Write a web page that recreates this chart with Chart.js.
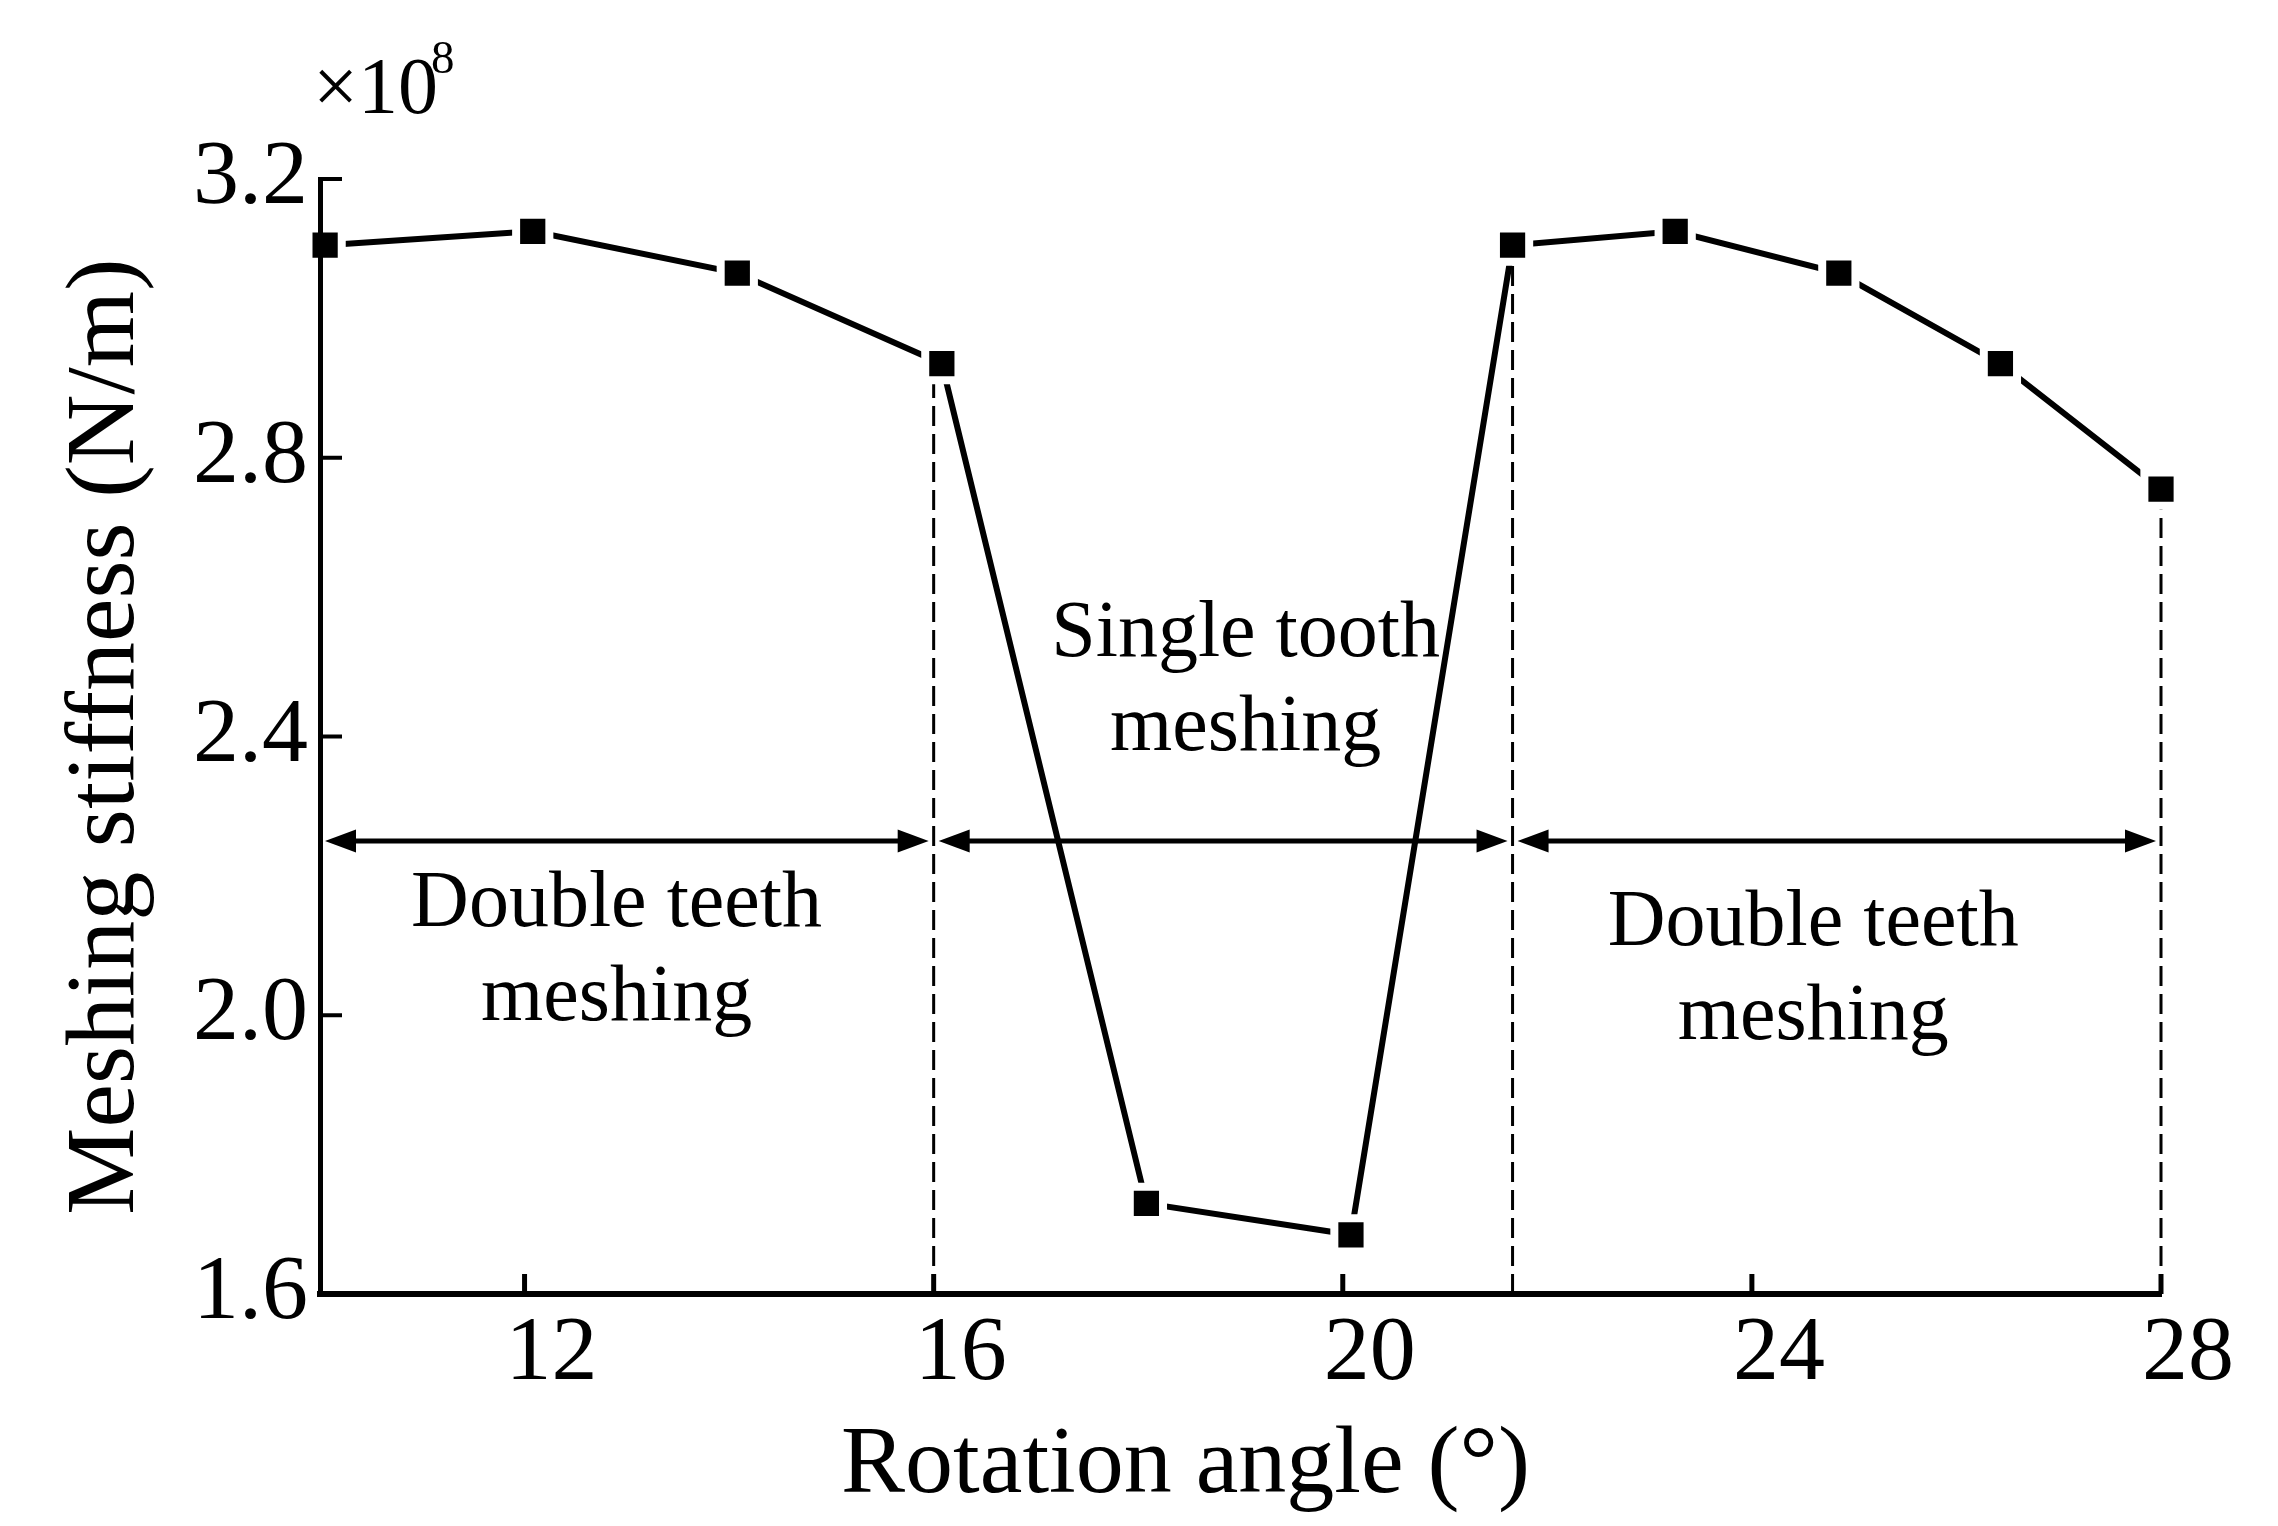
<!DOCTYPE html>
<html lang="en">
<head>
  <meta charset="utf-8">
  <title>Meshing stiffness</title>
  <script src="https://cdn.jsdelivr.net/npm/chart.js@4.4.1/dist/chart.umd.min.js"></script>
  <style>
    html, body { margin: 0; padding: 0; background: #fff; }
    #wrap { width: 2278px; height: 1526px; }
  </style>
</head>
<body>
  <div id="wrap"><canvas id="stiffness_chart"></canvas></div>

  <script>
    // data (stiffness in 1e8 N/m)
    var angles = [10.05, 12.08, 14.08, 16.08, 18.08, 20.08, 21.66, 23.25, 24.85, 26.43, 28];
    var stiffness = [3.105, 3.125, 3.065, 2.935, 1.73, 1.685, 3.105, 3.125, 3.065, 2.935, 2.755];
    var boundaryAngles = [16, 21.66, 28];
    var boundaryStiffness = [2.935, 3.105, 2.755];
    var xTicks = [12, 16, 20, 24, 28];
    var yTicks = [1.6, 2.0, 2.4, 2.8, 3.2];
    var zoneStart = [10, 16, 21.66];
    var zoneEnd = [16, 21.66, 28];
    var zoneText = [["Double teeth", "meshing"], ["Single tooth", "meshing"], ["Double teeth", "meshing"]];

    // where things sit (in axis units)
    var arrowLevel = 2.25;
    var labelX = [12.9, 19.05, 24.6];
    var labelY = [2.158, 2.545, 2.131];

    var serif = "'Liberation Serif', 'Times New Roman', serif";

    var datasets = [{
      data: angles.map(function(a, i){ return {x: a, y: stiffness[i]}; }),
      borderColor: "#000",
      borderWidth: 6,
      borderCapStyle: "round",
      pointStyle: "rect",
      pointRadius: 23.5,
      pointBackgroundColor: "#000",
      pointBorderColor: "#fff",
      pointBorderWidth: 8,
      clip: false,
      order: 0
    }];
    boundaryAngles.forEach(function(a, i){
      datasets.push({
        data: [{x: a, y: yTicks[0]}, {x: a, y: boundaryStiffness[i]}],
        borderColor: "#000",
        borderWidth: 3,
        borderDash: [20, 8],
        pointRadius: 0,
        clip: false,
        order: 1
      });
    });

    var decorations = {
      id: "decorations",
      afterDatasetsDraw: function(chart){
        var ctx = chart.ctx;
        var xs = chart.scales.x, ys = chart.scales.y;
        var area = chart.chartArea;
        ctx.save();
        ctx.strokeStyle = "#000";
        ctx.fillStyle = "#000";

        // inward tick marks
        ctx.lineWidth = 5;
        xTicks.forEach(function(t){
          var px = xs.getPixelForValue(t);
          ctx.beginPath(); ctx.moveTo(px, area.bottom); ctx.lineTo(px, area.bottom - 20); ctx.stroke();
        });
        ctx.lineWidth = 4;
        yTicks.slice(1).forEach(function(t){
          var py = ys.getPixelForValue(t);
          ctx.beginPath(); ctx.moveTo(area.left, py); ctx.lineTo(area.left + 22, py); ctx.stroke();
        });

        // double headed arrows for the meshing zones
        var ay = ys.getPixelForValue(arrowLevel);
        ctx.lineWidth = 5;
        for (var i = 0; i < zoneStart.length; i++) {
          var x1 = xs.getPixelForValue(zoneStart[i]) + 5;
          var x2 = xs.getPixelForValue(zoneEnd[i]) - 5;
          ctx.beginPath(); ctx.moveTo(x1 + 20, ay); ctx.lineTo(x2 - 20, ay); ctx.stroke();
          ctx.beginPath(); ctx.moveTo(x1, ay); ctx.lineTo(x1 + 31, ay - 11.5); ctx.lineTo(x1 + 31, ay + 11.5); ctx.closePath(); ctx.fill();
          ctx.beginPath(); ctx.moveTo(x2, ay); ctx.lineTo(x2 - 31, ay - 11.5); ctx.lineTo(x2 - 31, ay + 11.5); ctx.closePath(); ctx.fill();
        }

        // zone labels
        ctx.font = "80px " + serif;
        ctx.textAlign = "center";
        ctx.textBaseline = "middle";
        for (var j = 0; j < zoneText.length; j++) {
          var lx = xs.getPixelForValue(labelX[j]);
          var ly = ys.getPixelForValue(labelY[j]);
          ctx.fillText(zoneText[j][0], lx, ly);
          ctx.fillText(zoneText[j][1], lx, ly + 94);
        }

        // x axis title
        ctx.font = "96px " + serif;
        ctx.fillText("Rotation angle (°)", (area.left + area.right) / 2 - 55, 1467);

        // exponent
        ctx.textAlign = "left";
        ctx.textBaseline = "alphabetic";
        ctx.font = "80px " + serif;
        ctx.fillText("×10", 313, 113);
        ctx.font = "47px " + serif;
        ctx.fillText("8", 431, 73);
        ctx.restore();
      }
    };

    var stiffness_chart = new Chart(document.getElementById("stiffness_chart"), {
      type: "line",
      data: { datasets: datasets },
      plugins: [decorations],
      options: {
        responsive: true,
        maintainAspectRatio: false,
        animation: false,
        devicePixelRatio: 1,
        layout: { padding: { left: 0, right: 117, top: 179, bottom: 0 } },
        plugins: { legend: { display: false }, tooltip: { enabled: false } },
        scales: {
          x: {
            type: "linear",
            min: 10,
            max: 28,
            afterBuildTicks: function(scale){ scale.ticks = xTicks.map(function(v){ return {value: v}; }); },
            afterFit: function(scale){ scale.height = 232; },
            grid: { display: false, drawTicks: false },
            border: { display: true, color: "#000", width: 6, z: 1 },
            ticks: { color: "#000", padding: 6, labelOffset: 27, maxRotation: 0, font: { family: serif, size: 92 } }
          },
          y: {
            min: 1.6,
            max: 3.2,
            afterBuildTicks: function(scale){ scale.ticks = yTicks.map(function(v){ return {value: v}; }); },
            afterFit: function(scale){ scale.width = 320; },
            grid: { display: false, drawTicks: false },
            border: { display: true, color: "#000", width: 5, z: 1 },
            ticks: {
              color: "#000", padding: 12, font: { family: serif, size: 92 },
              callback: function(v){ return v.toFixed(1); }
            },
            title: {
              display: true,
              text: "Meshing stiffness (N/m)",
              color: "#000",
              font: { family: serif, size: 98 },
              padding: { top: 48, bottom: 0 }
            }
          }
        }
      }
    });
  </script>
</body>
</html>
